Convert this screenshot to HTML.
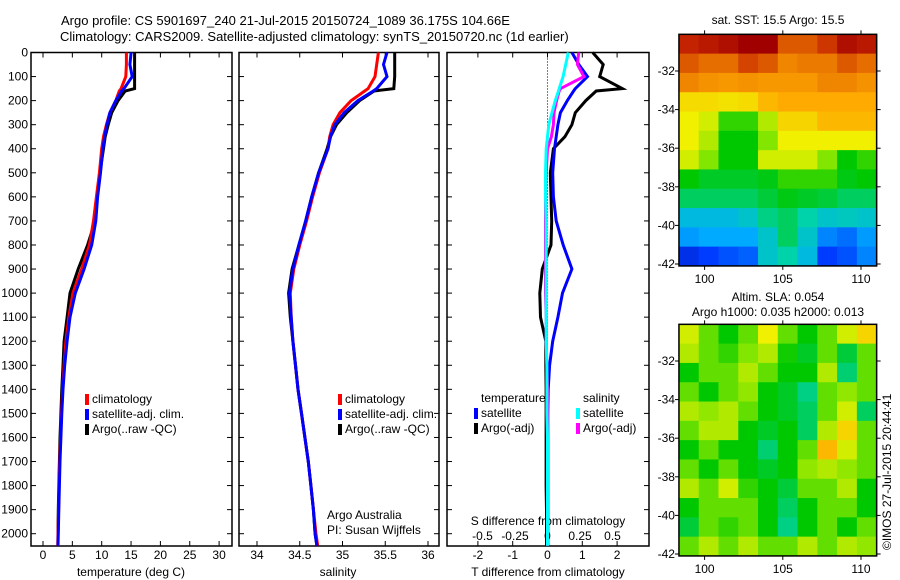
<!DOCTYPE html>
<html><head><meta charset="utf-8"><style>
html,body{margin:0;padding:0;background:#fff;}
svg{display:block;font-family:"Liberation Sans",sans-serif;}
text{font-size:12px;fill:#000;}
</style></head><body>
<svg id="c" width="900" height="580" viewBox="0 0 900 580">
<text x="61" y="25" style="font-size:13px">Argo profile: CS 5901697_240 21-Jul-2015 20150724_1089 36.175S 104.66E</text>
<text x="60" y="41" style="font-size:13px">Climatology: CARS2009. Satellite-adjusted climatology: synTS_20150720.nc (1d earlier)</text>
<text x="778" y="24" text-anchor="middle">sat. SST: 15.5 Argo: 15.5</text>
<text x="778" y="301" text-anchor="middle">Altim. SLA: 0.054</text>
<text x="778" y="316" text-anchor="middle">Argo h1000: 0.035 h2000: 0.013</text>
<text transform="translate(891,550) rotate(-90)">©IMOS 27-Jul-2015 20:44:41</text>
<text x="131" y="576" text-anchor="middle">temperature (deg C)</text>
<text x="338" y="576" text-anchor="middle">salinity</text>
<text x="548" y="576" text-anchor="middle">T difference from climatology</text>
<text x="548" y="525" text-anchor="middle">S difference from climatology</text>
<text x="327" y="519">Argo Australia</text>
<text x="327" y="534">PI: Susan Wijffels</text>
<g id="maps"></g>
<g id="plots"></g>
</svg>
<script>
// ---------- data ----------
const depths   = [0,50,100,150,160,200,250,300,350,400,500,600,700,800,900,1000,1100,1200,1300,1400,1500,1600,1700,1800,1900,2000,2050];
const tempArgo = [15.6,15.6,15.6,15.6,14.0,12.8,11.7,11.1,10.6,10.3,9.7,9.2,8.9,7.6,6.0,4.6,4.1,3.6,3.4,3.2,3.05,2.9,2.8,2.7,2.6,2.55,2.55];
const tempClim = [14.2,14.2,14.1,13.3,13.0,12.4,11.4,10.8,10.3,10.0,9.6,9.1,8.6,7.9,6.6,5.1,4.4,3.9,3.6,3.35,3.15,3.0,2.85,2.75,2.65,2.55,2.5];
const tempSat  = [15.0,14.8,15.2,13.8,13.4,12.4,11.4,10.9,10.5,10.2,9.8,9.3,9.0,8.3,7.0,5.5,4.6,4.1,3.7,3.4,3.2,3.05,2.9,2.8,2.7,2.6,2.55];
const salArgo  = [35.61,35.61,35.61,35.6,35.37,35.2,35.05,34.93,34.86,34.82,34.72,34.64,34.57,34.49,34.41,34.37,34.39,34.42,34.45,34.48,34.52,34.56,34.6,34.63,34.66,34.68,34.7];
const salClim  = [35.42,35.4,35.38,35.3,35.26,35.1,34.97,34.89,34.85,34.83,34.73,34.65,34.58,34.5,34.43,34.39,34.4,34.42,34.45,34.48,34.52,34.56,34.6,34.63,34.66,34.69,34.71];
const salSat   = [35.52,35.48,35.52,35.4,35.36,35.18,35.02,34.91,34.86,34.83,34.72,34.64,34.57,34.49,34.42,34.38,34.4,34.42,34.45,34.48,34.52,34.56,34.6,34.63,34.66,34.68,34.7];
const dTArgo   = [1.3,1.6,1.5,2.15,1.4,1.1,0.8,0.7,0.5,0.17,0.08,0.1,0.12,0.1,-0.15,-0.22,-0.2,-0.05,-0.05,-0.04,-0.04,-0.04,-0.04,-0.04,-0.03,-0.03,-0.03];
const dTSat    = [0.7,0.9,1.15,0.8,0.75,0.57,0.37,0.3,0.25,0.2,0.15,0.17,0.25,0.45,0.7,0.43,0.3,0.15,0.06,0.02,0.01,0.01,0.01,0.01,0.01,0.01,0.01];
const dSSat    = [0.16,0.14,0.12,0.09,0.085,0.06,0.035,0.01,0.0,-0.01,-0.015,-0.015,-0.01,-0.01,-0.01,-0.01,-0.01,-0.01,-0.005,-0.005,-0.005,0,0,0,0,0,0];
const dSArgo   = [0.24,0.23,0.28,0.1,0.09,0.07,0.05,0.045,0.03,0.0,-0.01,-0.015,-0.015,-0.015,-0.015,-0.015,-0.01,-0.01,-0.005,0,0,0,0,0,0,0,0];
const depthTicks = [0,100,200,300,400,500,600,700,800,900,1000,1100,1200,1300,1400,1500,1600,1700,1800,1900,2000];
const tempTicks = [0,5,10,15,20,25,30];
const salTicks = [34,34.5,35,35.5,36];
const salTickLabels = ["34","34.5","35","35.5","36"];
const tdTicks = [-2,-1,0,1,2];
const sdTicks = [-0.5,-0.25,0,0.25,0.5];
const sdTickLabels = ["-0.5","-0.25","0","0.25","0.5"];
const lonTicks = [100,105,110];
const latTicks = [-32,-34,-36,-38,-40,-42];
const sstGrid = [
[.93,.95,.97,1,1,.85,.85,.9,.97,.95],
[.85,.82,.82,.88,.85,.78,.8,.8,.85,.82],
[.78,.76,.75,.76,.75,.75,.75,.78,.78,.76],
[.65,.65,.64,.65,.7,.72,.72,.72,.72,.72],
[.62,.6,.5,.5,.58,.66,.66,.7,.7,.7],
[.62,.58,.47,.47,.55,.62,.62,.62,.62,.62],
[.6,.55,.47,.47,.6,.6,.6,.55,.47,.5],
[.47,.45,.45,.45,.46,.5,.5,.5,.46,.47],
[.42,.42,.42,.42,.44,.46,.45,.44,.42,.42],
[.33,.33,.33,.35,.4,.42,.38,.35,.36,.35],
[.28,.3,.3,.3,.35,.42,.35,.25,.22,.28],
[.12,.15,.18,.2,.35,.38,.33,.15,.18,.25]];
const slaGrid = [
[.6,.53,.47,.53,.62,.53,.47,.53,.6,.66],
[.58,.53,.5,.55,.58,.48,.45,.53,.44,.53],
[.47,.53,.53,.58,.53,.47,.47,.58,.41,.53],
[.53,.47,.53,.56,.47,.45,.4,.53,.56,.53],
[.58,.56,.58,.53,.47,.45,.42,.53,.6,.42],
[.53,.58,.58,.47,.45,.47,.42,.58,.66,.53],
[.47,.53,.47,.47,.41,.47,.53,.7,.6,.53],
[.53,.47,.53,.47,.45,.47,.56,.58,.56,.53],
[.58,.53,.6,.5,.47,.44,.53,.53,.58,.47],
[.47,.53,.53,.53,.47,.42,.47,.53,.53,.47],
[.44,.53,.5,.53,.47,.4,.47,.53,.47,.53],
[.53,.58,.53,.58,.53,.53,.58,.53,.58,.56]];

// ---------- helpers ----------
const NS="http://www.w3.org/2000/svg";
function mk(tag,attrs,parent){const e=document.createElementNS(NS,tag);for(const k in attrs)e.setAttribute(k,attrs[k]);parent.appendChild(e);return e;}
const plots=document.getElementById('plots');
const maps=document.getElementById('maps');
const yTop=52.5, pxPerM=0.2406;
const yD=d=>yTop+d*pxPerM;
const yBot=546;
const xT=t=>43+5.87*t;
const xS=s=>257+85.5*(s-34);
const xDT=t=>547.5+34.8*t;
const xDS=s=>547.5+130*s;
const lonX=l=>704.6+15.64*(l-100);
const latY=l=>71+19.3*(-32-l);
const cmapStops=[[0,0,0,140],[0.15,0,60,255],[0.3,0,170,255],[0.38,0,210,170],[0.47,0,200,0],[0.55,130,230,0],[0.62,240,240,0],[0.72,255,170,0],[0.82,230,110,0],[0.92,200,40,0],[1,160,0,0]];
function cmap(v){v=Math.max(0,Math.min(1,v));
 for(let i=1;i<cmapStops.length;i++){const a=cmapStops[i-1],b=cmapStops[i];
  if(v<=b[0]){const f=(v-a[0])/(b[0]-a[0]);
   return `rgb(${Math.round(a[1]+f*(b[1]-a[1]))},${Math.round(a[2]+f*(b[2]-a[2]))},${Math.round(a[3]+f*(b[3]-a[3]))})`;}}
 return 'rgb(160,0,0)';}

function frame(x0,x1,name){
 const r=mk('rect',{x:x0,y:yTop,width:x1-x0,height:yBot-yTop,fill:'none',stroke:'#000','stroke-width':1.5},plots);
 
 
 depthTicks.forEach(d=>{
  mk('line',{x1:x0,x2:x0+5,y1:yD(d),y2:yD(d),stroke:'#000'},plots);
  mk('line',{x1:x1-5,x2:x1,y1:yD(d),y2:yD(d),stroke:'#000'},plots);
 });
}
function xticks(ticks,labels,fx,name,ty){
 ticks.forEach((t,i)=>{
  const x=fx(t);
  mk('line',{x1:x,x2:x,y1:yBot,y2:yBot-5,stroke:'#000'},plots);
  mk('line',{x1:x,x2:x,y1:yTop,y2:yTop+5,stroke:'#000'},plots);
  const tx=mk('text',{x:x,y:ty,'text-anchor':'middle'},plots);
  tx.textContent=labels[i];
  
  
 });
}
function line(xs,fx,color,name){
 const pts=depths.map((d,i)=>fx(xs[i]).toFixed(1)+','+yD(d).toFixed(1)).join(' ');
 const p=mk('polyline',{points:pts,fill:'none',stroke:color,'stroke-width':3,'stroke-linejoin':'miter'},plots);
 
 
}
function legendEntry(x,y,color,label){
 mk('rect',{x:x,y:y-9,width:4,height:11,fill:color},plots);
 const t=mk('text',{x:x+7,y:y},plots);t.textContent=label;
 
 
}

// ---------- panel 1: temperature ----------
frame(31,232,'temperature-plot-frame');
depthTicks.forEach(d=>{const t=mk('text',{x:28,y:yD(d)+4,'text-anchor':'end'},plots);t.textContent=d;
 
 });
xticks(tempTicks,tempTicks.map(String),xT,'temp-tick-label',559);
line(tempArgo,xT,'#000','temp-argo-line');
line(tempClim,xT,'#f00','temp-clim-line');
line(tempSat,xT,'#00f','temp-sat-line');
legendEntry(85,403,'#f00','climatology');
legendEntry(85,418,'#00f','satellite-adj. clim.');
legendEntry(85,433,'#000','Argo(..raw -QC)');

// ---------- panel 2: salinity ----------
frame(239,439,'salinity-plot-frame');
xticks(salTicks,salTickLabels,xS,'sal-tick-label',559);
line(salArgo,xS,'#000','sal-argo-line');
line(salClim,xS,'#f00','sal-clim-line');
line(salSat,xS,'#00f','sal-sat-line');
legendEntry(338,403,'#f00','climatology');
legendEntry(338,418,'#00f','satellite-adj. clim.');
legendEntry(338,433,'#000','Argo(..raw -QC)');

// ---------- panel 3: differences ----------
frame(447,649,'difference-plot-frame');
mk('line',{x1:xDT(0),x2:xDT(0),y1:yTop,y2:yBot,stroke:'#000','stroke-dasharray':'1,2'},plots);
xticks(tdTicks,tdTicks.map(String),xDT,'tdiff-tick-label',559);
sdTicks.forEach((s,i)=>{const t=mk('text',{x:xDS(s),y:540,'text-anchor':'middle'},plots);t.textContent=sdTickLabels[i];
 
 });
line(dTArgo,xDT,'#000','tdiff-argo-line');
line(dTSat,xDT,'#00f','tdiff-sat-line');
line(dSArgo,xDS,'#f0f','sdiff-argo-line');
line(dSSat,xDS,'#0ff','sdiff-sat-line');
{const t=mk('text',{x:481,y:402},plots);t.textContent='temperature';
 
 }
{const t=mk('text',{x:583,y:402},plots);t.textContent='salinity';
 
 }
legendEntry(474,417,'#00f','satellite');
legendEntry(474,432,'#000','Argo(-adj)');
legendEntry(576,417,'#0ff','satellite');
legendEntry(576,432,'#f0f','Argo(-adj)');

// ---------- maps ----------
function drawMap(grid,yOff,name){
 const lon0=98.36,lon1=111.0,lat0=-30.1,lat1=-42.1;
 const nr=grid.length,nc=grid[0].length;
 const g=mk('g',{transform:`translate(0,${yOff})`},maps);
 
 
 grid.forEach((row,ri)=>row.forEach((v,ci)=>{
  const la=lat0+(lat1-lat0)*ri/nr, lb=lat0+(lat1-lat0)*(ri+1)/nr;
  const lo=lon0+(lon1-lon0)*ci/nc, lp=lon0+(lon1-lon0)*(ci+1)/nc;
  const r=mk('rect',{x:lonX(lo),y:latY(la),width:lonX(lp)-lonX(lo)+0.6,height:latY(lb)-latY(la)+0.6,fill:cmap(v)},g);
  
  
 }));
 const x0=lonX(lon0),x1=lonX(lon1),y0=latY(lat0),y1=latY(lat1);
 mk('rect',{x:x0,y:y0,width:x1-x0,height:y1-y0,fill:'none',stroke:'#000','stroke-width':1.5},g);
 latTicks.forEach(l=>{const y=latY(l);
  mk('line',{x1:x0-4,x2:x0,y1:y,y2:y,stroke:'#000'},g);
  mk('line',{x1:x1,x2:x1+4,y1:y,y2:y,stroke:'#000'},g);
  const t=mk('text',{x:x0-4,y:y+4,'text-anchor':'end'},g);t.textContent=l;
  
  });
 lonTicks.forEach(l=>{const x=lonX(l);
  mk('line',{x1:x,x2:x,y1:y0-4,y2:y0,stroke:'#000'},g);
  mk('line',{x1:x,x2:x,y1:y1,y2:y1+4,stroke:'#000'},g);
  const t=mk('text',{x:x,y:y1+17,'text-anchor':'middle'},g);t.textContent=l;
  
  });
}
drawMap(sstGrid,0,'sst-map');
drawMap(slaGrid,290,'sla-map');
</script>
</body></html>
